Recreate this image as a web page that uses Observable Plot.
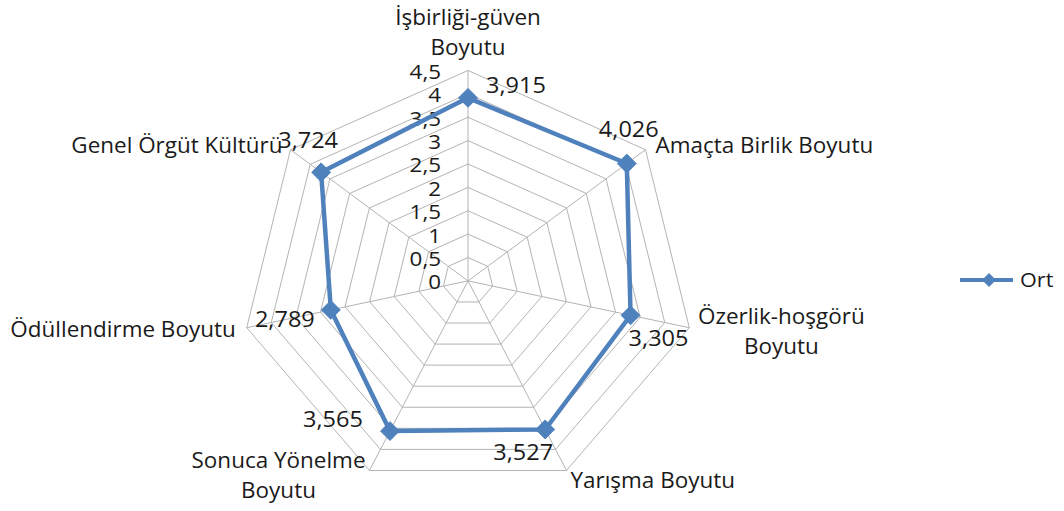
<!DOCTYPE html>
<html><head><meta charset="utf-8">
<script src="https://cdn.jsdelivr.net/npm/d3@7"></script>
<script src="https://cdn.jsdelivr.net/npm/@observablehq/plot@0.6"></script>
<style>
html,body{margin:0;padding:0;background:#fff;}
#wrap{position:relative;width:1064px;height:511px;font-family:"Open Sans",sans-serif;color:#1a1a1a;}
#legend{position:absolute;left:960px;top:266px;display:flex;align-items:center;font-size:20px;}
#legend svg{display:block;margin-right:4px;}
#legend span{display:inline-block;transform:scaleX(1.08);transform-origin:left center;}
</style></head><body><div id="wrap"></div>
<script>
// ---- data ----
const categories = [
  "İşbirliği-güven\nBoyutu",
  "Amaçta Birlik Boyutu",
  "Özerlik-hoşgörü\nBoyutu",
  "Yarışma Boyutu",
  "Sonuca Yönelme\nBoyutu",
  "Ödüllendirme Boyutu",
  "Genel Örgüt Kültürü"
];
const values = [3.915, 4.026, 3.305, 3.527, 3.565, 2.789, 3.724];
const valueLabels = ["3,915", "4,026", "3,305", "3,527", "3,565", "2,789", "3,724"];
const tickValues = [0, 0.5, 1, 1.5, 2, 2.5, 3, 3.5, 4, 4.5];
const tickLabels = ["0", "0,5", "1", "1,5", "2", "2,5", "3", "3,5", "4", "4,5"];
const seriesName = "Ort";

// ---- layout (styling only) ----
const COLOR = "#4F81BD";
const GRID = "#b4b4b4";
const FONT = "'Open Sans', sans-serif";
const FS = 21;
const SX_CAT = 1.07;  // horizontal stretch of the reference's text
const SX_NUM = 1.12;
const rMax = d3.max(tickValues);
const n = categories.length;
const ang = i => i * 2 * Math.PI / n;
const px = (r, i) => r * Math.sin(ang(i));
const py = (r, i) => r * Math.cos(ang(i));

// label offsets in pixels (anchor, dx, dy)
const catLayout = [
  {anchor: "middle", dx: 0, dy: -40},
  {anchor: "start", dx: 10, dy: -6},
  {anchor: "middle", dx: 92, dy: 2},
  {anchor: "start", dx: 4, dy: 8},
  {anchor: "middle", dx: -91, dy: 3},
  {anchor: "end", dx: -11, dy: 0},
  {anchor: "end", dx: -8, dy: -6}
];
const valLayout = [
  {dx: 48, dy: -12}, {dx: 2, dy: -33}, {dx: 28, dy: 24}, {dx: -22, dy: 24},
  {dx: -57, dy: -11}, {dx: -46, dy: 10}, {dx: -13, dy: -31}
];

// ---- derived tables ----
const rings = tickValues.filter(t => t > 0).flatMap(t =>
  d3.range(n + 1).map(i => ({ring: t, x: px(t, i % n), y: py(t, i % n)})));
const spokes = categories.map((c, i) => ({x2: px(rMax, i), y2: py(rMax, i)}));
const series = d3.range(n + 1).map(i => ({x: px(values[i % n], i % n), y: py(values[i % n], i % n)}));
const pts = values.map((v, i) => ({x: px(v, i), y: py(v, i), label: valueLabels[i]}));

const marks = [
  Plot.line(rings, {x: "x", y: "y", z: "ring", stroke: GRID, strokeWidth: 1}),
  Plot.link(spokes, {x1: 0, y1: 0, x2: "x2", y2: "y2", stroke: GRID, strokeWidth: 1}),
  Plot.text(tickValues, {x: 0, y: d => d, text: (d, i) => tickLabels[i], textAnchor: "end", dx: -27, dy: 2, fontSize: 20, fill: "#1a1a1a", className: "num"}),
  Plot.line(series, {x: "x", y: "y", stroke: COLOR, strokeWidth: 4.5, strokeLinejoin: "round", curve: "linear"}),
  Plot.dot(pts, {x: "x", y: "y", symbol: "diamond2", r: 8.5, fill: COLOR, stroke: COLOR, strokeWidth: 1})
];
categories.forEach((c, i) => {
  const L = catLayout[i];
  marks.push(Plot.text([c], {x: px(rMax, i), y: py(rMax, i), text: d => d, textAnchor: L.anchor,
    dx: L.dx, dy: L.dy, fontSize: FS, lineHeight: 1.43, fill: "#1a1a1a", className: "cat"}));
});
pts.forEach((p, i) => {
  const L = valLayout[i];
  marks.push(Plot.text([p], {x: "x", y: "y", text: "label", textAnchor: "middle",
    dx: L.dx, dy: L.dy, fontSize: FS, fill: "#1a1a1a", className: "num"}));
});

const chart = Plot.plot({
  width: 1064, height: 511,
  margin: 0,
  x: {domain: [-rMax, rMax], range: [240.5, 694.5], axis: null},
  y: {domain: [-rMax, rMax], range: [490.8, 70], axis: null},
  style: {fontFamily: FONT, fontSize: FS + "px", background: "#fff", overflow: "visible"},
  marks
});
// stretch text horizontally around its anchor, as in the reference
const stretch = (sel, s) => chart.querySelectorAll(sel).forEach(t => {
  const tr = t.getAttribute("transform") || "";
  t.setAttribute("transform", (tr + ` scale(${s},1)`).trim());
});
stretch("g.cat text", SX_CAT);
stretch("g.num text", SX_NUM);
const wrap = document.getElementById("wrap");
wrap.appendChild(chart);

// legend
const leg = document.createElement("div");
leg.id = "legend";
leg.innerHTML = `<svg width="56" height="22"><line x1="0" y1="11" x2="53" y2="11" stroke="${COLOR}" stroke-width="4"/><path d="M29,4 L36,11 L29,18 L22,11 Z" fill="${COLOR}"/></svg><span>${seriesName}</span>`;
wrap.appendChild(leg);
</script>
</body></html>
